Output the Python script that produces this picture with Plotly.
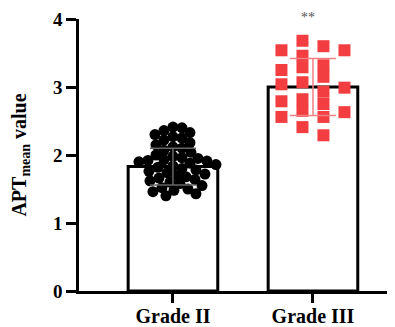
import plotly.graph_objects as go
import numpy as np

categories = ["Grade II", "Grade III"]
means = [1.83, 3.00]
sds = [0.27, 0.42]

grade2_values = [2.41, 2.40, 2.36, 2.33, 2.30, 2.27, 2.25, 2.22, 2.18, 2.15,
                 2.12, 2.10, 2.07, 2.04, 2.00, 1.98, 1.96, 1.95, 1.93, 1.92,
                 1.91, 1.90, 1.88, 1.86, 1.84, 1.82, 1.80, 1.78, 1.76, 1.74,
                 1.72, 1.70, 1.68, 1.66, 1.64, 1.62, 1.60, 1.58, 1.55, 1.52,
                 1.50, 1.48, 1.46, 1.43, 1.40]
grade3_values = [3.54, 3.29, 3.07, 2.75, 2.56,
                 3.68, 3.46, 3.25, 2.93, 2.65, 2.29,
                 3.60, 3.32, 3.04, 2.82, 2.63, 2.41,
                 3.54, 3.15, 2.99, 2.79, 2.56]
y_ticks = [0, 1, 2, 3, 4]
significance = "**"

# pixel scale of the plot (used only for the swarm layout)
PX_PER_X = 140.0
PX_PER_Y = 68.0


def swarm_round(values, center, mind):
    order = np.argsort(-np.array(values))
    placed = []
    xs = [0.0] * len(values)
    for i in order:
        py = values[i] * PX_PER_Y
        best = None
        for step in range(0, 300):
            for off in ([0] if step == 0 else [step, -step]):
                if all((ox - off) ** 2 + (oy - py) ** 2 >= mind ** 2 for ox, oy in placed):
                    best = off
                    break
            if best is not None:
                break
        placed.append((best, py))
        xs[i] = center + best / PX_PER_X
    return xs


def swarm_grid(values, center, sepx, sepy):
    order = np.argsort(-np.array(values))
    placed = []
    xs = [0.0] * len(values)
    cands = []
    for k in range(0, 6):
        d = (k + 0.5) * sepx
        cands += [-d, d]
    for i in order:
        py = values[i] * PX_PER_Y
        best = None
        for off in cands:
            if all(abs(ox - off) >= sepx or abs(oy - py) >= sepy for ox, oy in placed):
                best = off
                break
        placed.append((best, py))
        xs[i] = center + best / PX_PER_X
    return xs


x2 = swarm_round(grade2_values, 0, 9.0)
x3 = swarm_grid(grade3_values, 1, 21, 11)

fig = go.Figure()
fig.add_trace(go.Bar(
    x=[0, 1], y=means, width=0.64,
    marker=dict(color="white", line=dict(color="black", width=3)),
    hoverinfo="skip"))
fig.add_trace(go.Scatter(
    x=x2, y=grade2_values, mode="markers",
    marker=dict(symbol="circle", size=11, color="black")))
fig.add_trace(go.Scatter(
    x=x3, y=grade3_values, mode="markers",
    marker=dict(symbol="square", size=12, color="#F23D41")))
fig.add_trace(go.Scatter(
    x=[0], y=[means[0]], mode="markers", marker=dict(size=1, opacity=0),
    error_y=dict(type="data", array=[sds[0]], width=23, thickness=1.5, color="#666666")))
fig.add_trace(go.Scatter(
    x=[1], y=[means[1]], mode="markers", marker=dict(size=1, opacity=0),
    error_y=dict(type="data", array=[sds[1]], width=23, thickness=1.5, color="#F47F82")))

fig.add_annotation(x=1, y=1.0, xref="x", yref="paper", yanchor="bottom", xshift=-5,
                   text=significance, showarrow=False, yshift=-8,
                   font=dict(family="Liberation Serif", size=14, color="#555555"))

fig.update_layout(
    width=395, height=327,
    margin=dict(l=71, r=0, t=11, b=44),
    paper_bgcolor="white", plot_bgcolor="white",
    showlegend=False,
    font=dict(family="Liberation Serif", color="black"),
    xaxis=dict(range=[-0.671, 1.643], tickmode="array", tickvals=[0, 1],
               ticktext=["<b>%s</b>" % c for c in categories], automargin=False,
               showline=True, linecolor="black", linewidth=2.5,
               ticks="outside", ticklen=9, tickwidth=2.5, tickcolor="black",
               ticklabelstandoff=-4,
               showgrid=False, zeroline=False,
               tickfont=dict(family="Liberation Serif", size=20, color="black")),
    yaxis=dict(range=[0, 4], tickmode="array", tickvals=y_ticks,
               ticktext=["<b>%d</b>" % t for t in y_ticks], automargin=False,
               showline=True, linecolor="black", linewidth=2.5,
               ticks="outside", ticklen=10, tickwidth=2.5, tickcolor="black",
               showgrid=False, zeroline=False,
               tickfont=dict(family="Liberation Serif", size=19, color="black"),
               title=dict(text="<b>APT<sub>mean</sub> value</b>", standoff=23,
                          font=dict(family="Liberation Serif", size=20, color="black"))),
)

fig.write_html("out.html")
